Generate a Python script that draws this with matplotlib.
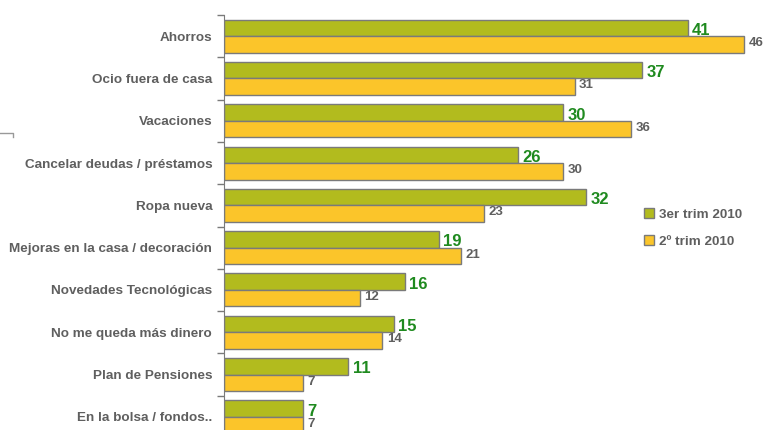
import matplotlib
matplotlib.use('Agg')
from matplotlib import pyplot as plt
from matplotlib.lines import Line2D
from matplotlib.patches import Patch
import numpy as np

categories = ['Ahorros', 'Ocio fuera de casa', 'Vacaciones',
              'Cancelar deudas / préstamos', 'Ropa nueva',
              'Mejoras en la casa / decoración', 'Novedades Tecnológicas',
              'No me queda más dinero', 'Plan de Pensiones',
              'En la bolsa / fondos..']
trim3 = [41, 37, 30, 26, 32, 19, 16, 15, 11, 7]
trim2 = [46, 31, 36, 30, 23, 21, 12, 14, 7, 7]
series_names = ['3er trim 2010', '2º trim 2010']

GREEN = '#b2bb1e'
ORANGE = '#fbc52a'
EDGE = '#7a7a7a'
TEXT = '#5f5f5f'
VAL_GREEN = '#1f8a1f'

plt.rcParams['font.family'] = ['Liberation Sans', 'DejaVu Sans']

fig = plt.figure(figsize=(7.64, 4.3), dpi=100)
ax = fig.add_axes([224 / 764, 1 - 438 / 430, 0.74, (438 - 15) / 430])

y = np.arange(len(categories))
h = 0.39
ax.barh(y - h / 2, trim3, height=h, color=GREEN, edgecolor=EDGE, linewidth=1)
ax.barh(y + h / 2, trim2, height=h, color=ORANGE, edgecolor=EDGE, linewidth=1)

for yi, v in zip(y, trim3):
    ax.text(v + 0.4, yi - h / 2 + 0.06, str(v), color=VAL_GREEN,
            fontsize=12, fontweight='bold', va='center', ha='left')
for yi, v in zip(y, trim2):
    ax.text(v + 0.4, yi + h / 2 - 0.03, str(v), color=TEXT,
            fontsize=9.5, fontweight='bold', va='center', ha='left')

ax.set_xlim(0, 50)
ax.set_ylim(len(categories) - 0.5, -0.5)
ax.set_yticks(y)
ax.set_yticklabels(categories, fontsize=9.7, fontweight='bold', color=TEXT)
ax.tick_params(axis='y', which='major', length=0, pad=8.5)
ax.set_yticks(np.arange(-0.5, len(categories), 1), minor=True)
ax.tick_params(axis='y', which='minor', length=5, color=EDGE, width=1)
ax.set_xticks([])
for s in ['top', 'right', 'bottom']:
    ax.spines[s].set_visible(False)
ax.spines['left'].set_color(EDGE)

handles = [Patch(facecolor=GREEN, edgecolor=EDGE), Patch(facecolor=ORANGE, edgecolor=EDGE)]
leg = fig.legend(handles, series_names, loc='upper left',
                 bbox_to_anchor=(632 / 764, 1 - 196 / 430), frameon=False,
                 handlelength=0.7, handleheight=0.7, handletextpad=0.4,
                 labelspacing=1.1, prop={'size': 9.7, 'weight': 'bold'})
for t in leg.get_texts():
    t.set_color(TEXT)

# stray fragment on the left edge
fig.add_artist(Line2D([0, 13 / 764, 13 / 764], [1 - 133 / 430, 1 - 133 / 430, 1 - 137 / 430],
                      color='#999999', linewidth=1))

fig.savefig('out.png', dpi=100)
